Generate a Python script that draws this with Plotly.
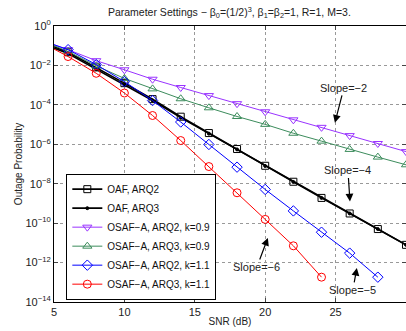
import plotly.graph_objects as go

snr = [5, 6, 8, 10, 12, 14, 16, 18, 20, 22, 24, 26, 28, 30]

# log10 of outage probability
oaf_arq2 = [-1.05, -1.33, -2.10, -2.90, -3.71, -4.60, -5.43, -6.24, -7.09, -7.90, -8.72, -9.51, -10.30, -11.10]
oaf_arq3 = [-1.12, -1.40, -2.18, -2.97, -3.78, -4.65, -5.46, -6.26, -7.10, -7.91, -8.72, -9.51, -10.30, -11.10]
osaf_arq2_k09 = [-0.95, -1.20, -1.76, -2.22, -2.70, -3.12, -3.53, -3.94, -4.35, -4.76, -5.14, -5.56, -5.96, -6.37]
osaf_arq3_k09 = [-1.00, -1.29, -2.02, -2.66, -3.19, -3.69, -4.15, -4.59, -4.99, -5.44, -5.84, -6.26, -6.65, -7.04]
osaf_arq2_k11 = [-0.95, -1.20, -1.96, -2.82, -3.78, -4.87, -6.01, -7.16, -8.29, -9.38, -10.46, -11.52, -12.74]
osaf_arq3_k11 = [-1.17, -1.55, -2.40, -3.40, -4.54, -5.81, -7.13, -8.46, -9.81, -11.15, -12.74]

y_tick_exp = [0, -2, -4, -6, -8, -10, -12, -14]
x_ticks = [5, 10, 15, 20, 25, 30]

series = [
    ("OAF, ARQ2", oaf_arq2, "#000000", "square-open", 7, 1.6),
    ("OAF, ARQ3", oaf_arq3, "#000000", "circle", 3, 1.6),
    ("OSAF\u2212A, ARQ2, k=0.9", osaf_arq2_k09, "#9933FF", "triangle-down-open", 8, 1.0),
    ("OSAF\u2212A, ARQ3, k=0.9", osaf_arq3_k09, "#3C8C5C", "triangle-up-open", 8, 1.0),
    ("OSAF\u2212A, ARQ2, k=1.1", osaf_arq2_k11, "#0000FF", "diamond-open", 8, 1.0),
    ("OSAF\u2212A, ARQ3, k=1.1", osaf_arq3_k11, "#FF0000", "circle-open", 8, 1.0),
]

fig = go.Figure()
for name, vals, color, sym, msize, lw in series:
    xs = snr[:len(vals)]
    ys = [10 ** v for v in vals]
    # leading segment (no marker at the first sample)
    fig.add_trace(go.Scatter(x=xs[:2], y=ys[:2], mode="lines", showlegend=False,
                             line=dict(color=color, width=lw), hoverinfo="skip"))
    fig.add_trace(go.Scatter(x=xs[1:], y=ys[1:], mode="lines+markers", name=name,
                             line=dict(color=color, width=lw),
                             marker=dict(symbol=sym, size=msize, color=color,
                                         line=dict(color=color, width=1))))

font = "Liberation Sans, Arial, Helvetica, sans-serif"

def ann(x, logy, ax, ay, text):
    fig.add_annotation(x=x, y=logy, ax=ax, ay=ay, text=text, showarrow=True,
                       arrowhead=2, arrowsize=1.3, arrowwidth=1.2, arrowcolor="black",
                       font=dict(family=font, size=11, color="#222"))

ann(24.95, -4.91, 9, -35, "Slope=\u22122")
ann(26.02, -8.90, -2, -31, "Slope=\u22124")
ann(20.19, -10.75, -11, 29, "Slope=\u22126")
ann(26.51, -12.27, -4, 22, "Slope=\u22125")

fig.update_layout(
    width=406, height=331,
    margin=dict(l=54, r=0, t=26, b=29),
    paper_bgcolor="white", plot_bgcolor="white",
    font=dict(family=font, size=10, color="#222"),
    title=dict(text="Parameter Settings \u2212 \u03b2<sub>0</sub>=(1/2)<sup>3</sup>, \u03b2<sub>1</sub>=\u03b2<sub>2</sub>=1, R=1, M=3.",
               x=0.565, xanchor="center", y=0.963, yanchor="middle",
               font=dict(family=font, size=10.5, color="#222")),
    showlegend=True,
    legend=dict(x=0.035, y=0.465, xanchor="left", yanchor="top",
                bgcolor="white", bordercolor="black", borderwidth=1,
                font=dict(family=font, size=10, color="#111"),
                tracegroupgap=0),
)
fig.update_xaxes(range=[5, 30], tickvals=x_ticks, ticks="inside", ticklen=4,
                 showline=True, linecolor="black", linewidth=1, mirror="ticks",
                 showgrid=True, gridcolor="#999", griddash="dot", gridwidth=1,
                 zeroline=False, automargin=False, ticklabelstandoff=0,
                 title=dict(text="SNR (dB)", standoff=0, font=dict(size=10)),
                 tickfont=dict(size=11))
fig.update_yaxes(type="log", range=[-14, 0],
                 tickvals=[10 ** e for e in y_tick_exp],
                 ticktext=["10<sup>%s</sup>" % (str(e).replace("-", "\u2212")) for e in y_tick_exp],
                 ticks="inside", ticklen=4,
                 showline=True, linecolor="black", linewidth=1, mirror="ticks",
                 showgrid=True, gridcolor="#999", griddash="dot", gridwidth=1,
                 zeroline=False, automargin=False,
                 title=dict(text="Outage Probability", standoff=1, font=dict(size=10)),
                 tickfont=dict(size=11))

fig.write_html("out.html", config={"displayModeBar": False},
               post_script="document.body.style.margin='0';")
